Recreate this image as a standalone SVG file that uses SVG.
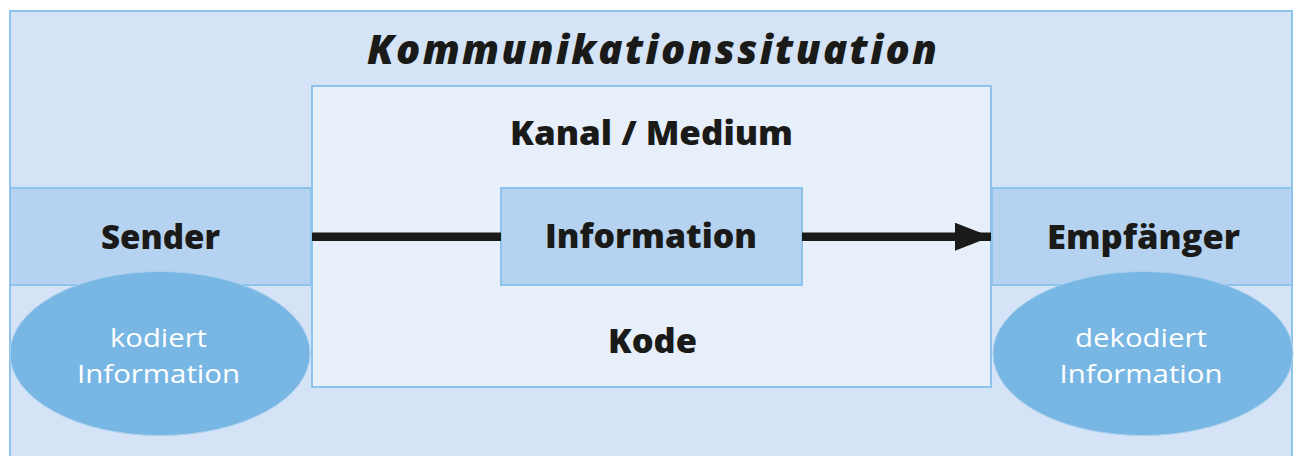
<svg xmlns="http://www.w3.org/2000/svg" width="1297" height="456" viewBox="0 0 1297 456">
<defs>
<style>
.frame{fill:#d4e3f6;stroke:#8ec3ec;stroke-width:2}
.inner{fill:#e7effa;stroke:#8ec3ec;stroke-width:2}
.band{fill:#b5d3f0;stroke:#8ec3ec;stroke-width:2}
.ell{fill:#78b6e3;stroke:#a9d0ef;stroke-width:1}
.lbl{font-family:"Open Sans","Noto Sans",sans-serif;font-weight:800;font-size:34px;fill:#1a1a18;text-anchor:middle}
.title{font-family:"Open Sans","Noto Sans",sans-serif;font-weight:800;font-style:italic;font-size:40px;fill:#1a1a18;text-anchor:middle}
.ellt{font-family:"Open Sans","Noto Sans",sans-serif;font-size:26px;fill:#ffffff;text-anchor:middle}
</style>
<marker id="ah" markerWidth="36" markerHeight="28" refX="36" refY="14" orient="auto" markerUnits="userSpaceOnUse">
<path d="M0,0 L36,14 L0,28 Z" fill="#1a1a18"/>
</marker>
</defs>
<g id="situation">
<rect class="frame" x="10" y="11" width="1282" height="460"/>
<text class="title" x="652" y="64" textLength="570" lengthAdjust="spacing">Kommunikationssituation</text>
</g>
<g id="kanal">
<rect class="inner" x="312" y="86" width="679" height="301"/>
<text class="lbl" x="651.5" y="145" textLength="283" lengthAdjust="spacingAndGlyphs">Kanal / Medium</text>
<text class="lbl" x="652.5" y="353" textLength="89" lengthAdjust="spacingAndGlyphs">Kode</text>
</g>
<g id="sender">
<rect class="band" x="10" y="188" width="301" height="97"/>
<text class="lbl" x="160.5" y="249" textLength="119" lengthAdjust="spacingAndGlyphs">Sender</text>
</g>
<g id="sender-ellipse">
<ellipse class="ell" cx="160" cy="353.5" rx="150" ry="82"/>
<text class="ellt" x="158.5" y="347" textLength="97" lengthAdjust="spacingAndGlyphs">kodiert</text>
<text class="ellt" x="158.5" y="383" textLength="163" lengthAdjust="spacingAndGlyphs">Information</text>
</g>
<g id="empfaenger">
<rect class="band" x="992" y="188" width="300" height="97"/>
<text class="lbl" x="1143.5" y="249" textLength="193" lengthAdjust="spacingAndGlyphs">Empfänger</text>
</g>
<g id="empfaenger-ellipse">
<ellipse class="ell" cx="1143" cy="353.5" rx="150" ry="82"/>
<text class="ellt" x="1141" y="347" textLength="132" lengthAdjust="spacingAndGlyphs">dekodiert</text>
<text class="ellt" x="1141" y="383" textLength="163" lengthAdjust="spacingAndGlyphs">Information</text>
</g>
<g id="information">
<rect class="band" x="501" y="188" width="301" height="97"/>
<text class="lbl" x="651" y="248" textLength="212" lengthAdjust="spacingAndGlyphs">Information</text>
</g>
<g id="connectors">
<line x1="312" y1="236.7" x2="501" y2="236.7" stroke="#1a1a18" stroke-width="8.5"/>
<line x1="802" y1="236.7" x2="991" y2="236.7" stroke="#1a1a18" stroke-width="8.5" marker-end="url(#ah)"/>
</g>
</svg>
